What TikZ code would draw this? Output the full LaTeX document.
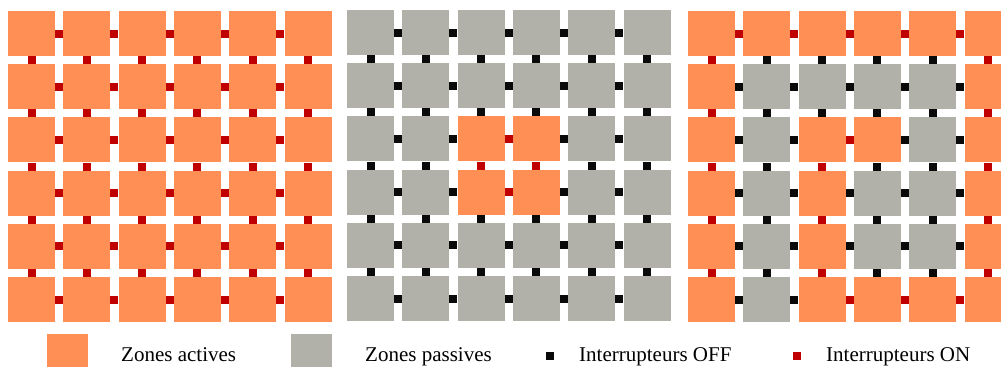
\documentclass[tikz,border=0pt]{standalone}
\usepackage{fontspec}
\setmainfont{Liberation Serif}
\definecolor{ACTcolor}{HTML}{FF8F55}
\definecolor{PASScolor}{HTML}{B1B1AA}
\definecolor{ONcolor}{HTML}{C00000}
\definecolor{OFFcolor}{HTML}{0A0A0A}
\usepackage{tikz}
\usetikzlibrary{math, positioning}

% etat des zones, ligne par ligne (1 = active)
\def\etatA{{1,1,1,1,1,1, 1,1,1,1,1,1, 1,1,1,1,1,1, 1,1,1,1,1,1, 1,1,1,1,1,1, 1,1,1,1,1,1}}
\def\etatB{{0,0,0,0,0,0, 0,0,0,0,0,0, 0,0,1,1,0,0, 0,0,1,1,0,0, 0,0,0,0,0,0, 0,0,0,0,0,0}}
\def\etatC{{1,1,1,1,1,1, 1,0,0,0,0,1, 1,0,1,1,0,1, 1,0,1,0,0,1, 1,0,1,0,0,1, 1,0,1,1,1,1}}

\begin{document}
\begin{tikzpicture}[x=1pt, y=-1pt]
    \tikzset{%
        inter/.style={minimum size=0pt},
        legende/.style={anchor=base west, inner sep=0pt, font=\fontsize{21pt}{24pt}\selectfont},
        pics/grille/.style={code={%
                        \tikzmath{%
                            \pas=55.3;
                            \pasy=53.2;
                            \lz=47;
                            \hz=45;
                            \ds=4;
                        };
                        \foreach \r in {0, ..., 5} {%
                                \foreach \c in {0, ..., 5} {%
                                        \pgfmathtruncatemacro{\ici}{#1[\r*6+\c]}
                                        \pgfmathsetmacro{\xa}{\c*\pas}
                                        \pgfmathsetmacro{\ya}{\r*\pasy}
                                        \ifnum\ici=1
                                            \fill [ACTcolor] (\xa, \ya) rectangle ++(\lz, \hz);
                                        \else
                                            \fill [PASScolor] (\xa, \ya) rectangle ++(\lz, \hz);
                                        \fi
                                        % interrupteur vers la droite
                                        \ifnum\c<5
                                            \pgfmathtruncatemacro{\voisin}{#1[\r*6+\c+1]}
                                            \pgfmathtruncatemacro{\on}{\ici*\voisin}
                                            \pgfmathsetmacro{\xs}{\xa+\lz+(\pas-\lz)/2}
                                            \pgfmathsetmacro{\ys}{\ya+\hz/2}
                                            \ifnum\on=1 \def\coul{ONcolor}\else\def\coul{OFFcolor}\fi
                                            \fill [\coul] (\xs-\ds, \ys-\ds) rectangle ++(2*\ds, 2*\ds);
                                        \fi
                                        % interrupteur vers le bas
                                        \ifnum\r<5
                                            \pgfmathtruncatemacro{\voisin}{#1[\r*6+\c+6]}
                                            \pgfmathtruncatemacro{\on}{\ici*\voisin}
                                            \pgfmathsetmacro{\xs}{\xa+\lz/2}
                                            \pgfmathsetmacro{\ys}{\ya+\hz+(\pasy-\hz)/2}
                                            \ifnum\on=1 \def\coul{ONcolor}\else\def\coul{OFFcolor}\fi
                                            \fill [\coul] (\xs-\ds, \ys-\ds) rectangle ++(2*\ds, 2*\ds);
                                        \fi
                                    };
                            };
                    }
            }
    }

    \useasboundingbox (0, 0) rectangle (1001, 367);
    \clip (0, 0) rectangle (1001, 367);

    % toutes actives / centre actif / anneaux
    \pic at (8, 11) {grille=\etatA};
    \pic at (347, 10) {grille=\etatB};
    \pic at (688, 11) {grille=\etatC};

    % legende
    \fill [ACTcolor] (47, 334) rectangle (88, 367);
    \node (actives) [legende] at (121, 361) {Zones actives};
    \fill [PASScolor] (291, 334) rectangle (332, 367);
    \node (passives) [legende] at (365, 361) {Zones passives};
    \fill [OFFcolor] (546, 352) rectangle ++(8, 8);
    \node (off) [legende] at (579, 361) {Interrupteurs OFF};
    \fill [ONcolor] (793, 352) rectangle ++(8, 8);
    \node (on) [legende] at (826, 361) {Interrupteurs ON};
\end{tikzpicture}
\end{document}
